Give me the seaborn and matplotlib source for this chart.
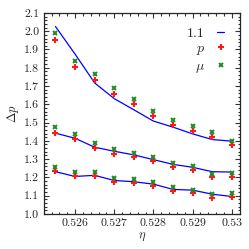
import numpy as np
import pandas as pd
import matplotlib
matplotlib.use("Agg")
import matplotlib.pyplot as plt
import seaborn as sns
from matplotlib.ticker import MultipleLocator, FixedLocator, FuncFormatter

# packing fraction values shared by all three curves
eta = [0.5255, 0.526, 0.5265, 0.527, 0.5275, 0.528, 0.5285, 0.529, 0.5295, 0.53]

# fitted curves (blue), three groups
line_top = [2.026, 1.875, 1.717, 1.631, 1.570, 1.508, 1.475, 1.438, 1.407, 1.398]
line_mid = [1.442, 1.414, 1.365, 1.343, 1.323, 1.297, 1.271, 1.255, 1.231, 1.229]
line_bot = [1.231, 1.205, 1.211, 1.183, 1.176, 1.163, 1.134, 1.130, 1.108, 1.095]

# pressure estimate p (red)
p_top = [1.952, 1.805, 1.732, 1.656, 1.600, 1.535, 1.484, 1.453, 1.423, 1.376]
p_mid = [1.445, 1.411, 1.363, 1.330, 1.312, 1.288, 1.259, 1.238, 1.200, 1.203]
p_bot = [1.237, 1.207, 1.207, 1.176, 1.170, 1.150, 1.127, 1.112, 1.086, 1.090]

# chemical potential estimate mu (green)
mu_top = [1.988, 1.838, 1.765, 1.688, 1.631, 1.563, 1.512, 1.480, 1.451, 1.401]
mu_mid = [1.475, 1.438, 1.390, 1.354, 1.334, 1.310, 1.281, 1.260, 1.218, 1.224]
mu_bot = [1.258, 1.229, 1.229, 1.198, 1.192, 1.172, 1.145, 1.130, 1.108, 1.112]

legend_labels = ["1.1", "$p$", "$\\mu$"]
x_ticks = [0.526, 0.527, 0.528, 0.529, 0.53]
x_tick_labels = ["0.526", "0.527", "0.528", "0.529", "0.53"]

sns.set_style("ticks")
plt.rcParams["font.family"] = ["cmr10"]
plt.rcParams["mathtext.fontset"] = "cm"
plt.rcParams["axes.formatter.use_mathtext"] = True
plt.rcParams["font.size"] = 8

blue = "#0000ff"
red = "#ff1a1a"
green = "#228b22"

fig = plt.figure(figsize=(2.49, 2.49), dpi=100)
ax = fig.add_axes([0.177, 0.141, 0.787, 0.807])

groups = [(line_top, p_top, mu_top), (line_mid, p_mid, mu_mid), (line_bot, p_bot, mu_bot)]
for i, (ln, pv, mv) in enumerate(groups):
    df = pd.DataFrame({"eta": eta, "line": ln, "p": pv, "mu": mv})
    sns.lineplot(data=df, x="eta", y="line", ax=ax, color=blue, linewidth=0.9,
                 label=legend_labels[0] if i == 0 else None, legend=False)
    ax.plot(df["eta"], df["p"], linestyle="none", marker="+", color=red,
            markersize=5, markeredgewidth=1.5,
            label=legend_labels[1] if i == 0 else None)
    ax.plot(df["eta"], df["mu"], linestyle="none", marker="x", color=green,
            markersize=3.5, markeredgewidth=1.4,
            label=legend_labels[2] if i == 0 else None)

ax.set_xlim(0.52521, 0.53021)
ax.set_ylim(1.0, 2.1)
ax.xaxis.set_major_locator(FixedLocator(x_ticks))
ax.set_xticklabels(x_tick_labels)
ax.xaxis.set_minor_locator(MultipleLocator(0.0002))
ax.yaxis.set_major_locator(MultipleLocator(0.1))
ax.yaxis.set_minor_locator(MultipleLocator(0.02))
ax.yaxis.set_major_formatter(FuncFormatter(lambda v, pos: f"{v:.1f}"))
ax.tick_params(which="both", direction="in", top=True, right=True, width=0.8,
               color="#333333", labelsize=8.5, pad=3.5)
ax.tick_params(which="major", length=3.5)
ax.tick_params(which="minor", length=1.8)
for s in ax.spines.values():
    s.set_linewidth(0.9)

ax.set_xlabel("$\\eta$", fontsize=9, labelpad=2)
ax.set_ylabel("$\\Delta p$", fontsize=9, labelpad=2)

ax.legend(loc="upper right", bbox_to_anchor=(0.92, 0.93), frameon=False,
          markerfirst=False, handlelength=0.5, handletextpad=0.9,
          labelspacing=0.2, fontsize=10, borderaxespad=0, borderpad=0)

fig.savefig("out.png", dpi=100)
